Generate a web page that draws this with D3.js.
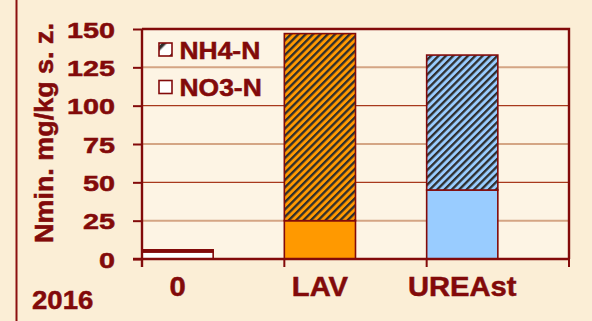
<!DOCTYPE html>
<html><head><meta charset="utf-8">
<script src="https://cdn.jsdelivr.net/npm/d3@7"></script>
<style>
html,body{margin:0;padding:0;background:#fbeed6;}
svg{display:block;}
text{font-family:"Liberation Sans",Arial,sans-serif;font-weight:bold;fill:#820a0a;stroke:#820a0a;stroke-width:0.5px;}
</style></head>
<body>
<svg id="chart" width="592" height="321"></svg>
<script>
const categories = ["0", "LAV", "UREAst"];
const no3Values = [4.6, 25, 45];
const nh4Values = [1.4, 122, 88];
const yTicks = [0, 25, 50, 75, 100, 125, 150];
const seriesNames = ["NH4-N", "NO3-N"];
const no3Colors = ["#ffffff", "#ff9900", "#99ccff"];
const yearLabel = "2016";
const yTitle = "Nmin. mg/kg s. z.";

const svg = d3.select("#chart");
const dark = "#820a0a";
const L = 142, R = 569, T = 29, B = 259;

const defs = svg.append("defs");
no3Colors.forEach((c, i) => {
  const p = defs.append("pattern").attr("id", "hatch" + i)
    .attr("patternUnits", "userSpaceOnUse").attr("width", 5.2).attr("height", 5.2)
    .attr("patternTransform", "rotate(45)");
  p.append("rect").attr("width", 5.2).attr("height", 5.2).attr("fill", c);
  p.append("rect").attr("width", 2.3).attr("height", 5.2).attr("fill", "#2e2e2e");
});
const lp = defs.append("pattern").attr("id", "hatchLegend")
  .attr("patternUnits", "userSpaceOnUse").attr("width", 14).attr("height", 14)
  .attr("patternTransform", "rotate(45)");
lp.append("rect").attr("width", 14).attr("height", 14).attr("fill", "#ffffff");
lp.append("rect").attr("x", 5).attr("width", 3.5).attr("height", 14).attr("fill", "#2e2e2e");

// background
svg.append("rect").attr("width", 592).attr("height", 321).attr("fill", "#fbeed6");
svg.append("line").attr("x1", 16.5).attr("x2", 16.5).attr("y1", 0).attr("y2", 321)
  .attr("stroke", "#8b1010").attr("stroke-width", 2);

const x = d3.scaleBand().domain(categories).range([L, R]).padding(0);
const y = d3.scaleLinear().domain([0, 150]).range([B, T]);

svg.append("rect").attr("x", L).attr("y", T).attr("width", R - L).attr("height", B - T)
  .attr("fill", "#fdf4e4");

// gridlines
svg.append("g").selectAll("line").data(yTicks.filter(d => d > 0 && d < 150)).join("line")
  .attr("x1", L).attr("x2", R)
  .attr("y1", d => y(d)).attr("y2", d => y(d))
  .attr("stroke", d => (d % 50 === 0) ? "#a8381c" : "#d4a584")
  .attr("stroke-width", d => (d % 50 === 0) ? 1.2 : 2);

// bars
const bw = x.bandwidth() / 2;
const g = svg.append("g");
categories.forEach((c, i) => {
  const x0 = x(c);
  g.append("rect").attr("x", x0).attr("y", y(no3Values[i]))
    .attr("width", bw).attr("height", y(0) - y(no3Values[i]))
    .attr("fill", no3Colors[i]).attr("stroke", dark).attr("stroke-width", 1.6);
  g.append("rect").attr("x", x0).attr("y", y(no3Values[i] + nh4Values[i]))
    .attr("width", bw).attr("height", y(no3Values[i]) - y(no3Values[i] + nh4Values[i]))
    .attr("fill", i === 0 ? dark : "url(#hatch" + i + ")").attr("stroke", dark).attr("stroke-width", 1.6);
});

// frame
svg.append("path").attr("d", `M${L},${T}H${R}V${B}`).attr("fill", "none")
  .attr("stroke", dark).attr("stroke-width", 2.4);

// y axis
const yAxis = d3.axisLeft(y).tickValues(yTicks).tickSize(9).tickPadding(0).tickFormat(d => d);
const ya = svg.append("g").attr("transform", `translate(${L},0)`).call(yAxis);
ya.select(".domain").attr("stroke", dark).attr("stroke-width", 2.4)
  .attr("d", `M0,${T}V${B + 8}`);
ya.selectAll(".tick line").attr("stroke", dark).attr("stroke-width", 2);
ya.selectAll(".tick text")
  .attr("x", null).attr("dy", null)
  .style("font-size", "22.5px").style("font-family", "Liberation Sans, Arial, sans-serif")
  .style("font-weight", "bold").attr("fill", dark).attr("stroke", dark).attr("stroke-width", 0.5)
  .attr("text-anchor", "end")
  .attr("transform", "translate(-27,8) scale(1.28,1)");

// x axis
const xAxis = d3.axisBottom(x).tickSize(0).tickFormat("");
const xa = svg.append("g").attr("transform", `translate(0,${B})`).call(xAxis);
xa.select(".domain").attr("stroke", dark).attr("stroke-width", 2.4)
  .attr("d", `M${L - 9},0H${R}`);
xa.selectAll(".tick").remove();
const bounds = categories.map(c => x(c)).concat([R]);
xa.selectAll("line.b").data(bounds).join("line").attr("class", "b")
  .attr("x1", d => d).attr("x2", d => d).attr("y1", 0).attr("y2", 8)
  .attr("stroke", dark).attr("stroke-width", 2);
svg.append("g").selectAll("text").data(categories).join("text")
  .attr("text-anchor", "middle")
  .attr("transform", c => `translate(${x(c) + bw / 2},295.5) scale(1.08,1)`)
  .style("font-size", "27px")
  .text(c => c);

// year
svg.append("text").attr("transform", "translate(32,309) scale(1.06,1)")
  .style("font-size", "26px").text(yearLabel);

// y title
svg.append("text").attr("text-anchor", "middle")
  .attr("transform", "translate(53,133) rotate(-90)")
  .style("font-size", "26px").attr("textLength", 220).attr("lengthAdjust", "spacingAndGlyphs")
  .text(yTitle);

// legend
const leg = svg.append("g");
seriesNames.forEach((s, i) => {
  const yy = 43 + i * 37.5;
  leg.append("rect").attr("x", 159).attr("y", yy).attr("width", 13).attr("height", 13)
    .attr("fill", i === 0 ? "url(#hatchLegend)" : "#ffffff")
    .attr("stroke", dark).attr("stroke-width", 1.6);
  leg.append("text").attr("transform", `translate(179.5,${yy + 15.5}) scale(1.15,1)`)
    .style("font-size", "23px").text(s);
});
</script>
</body></html>
